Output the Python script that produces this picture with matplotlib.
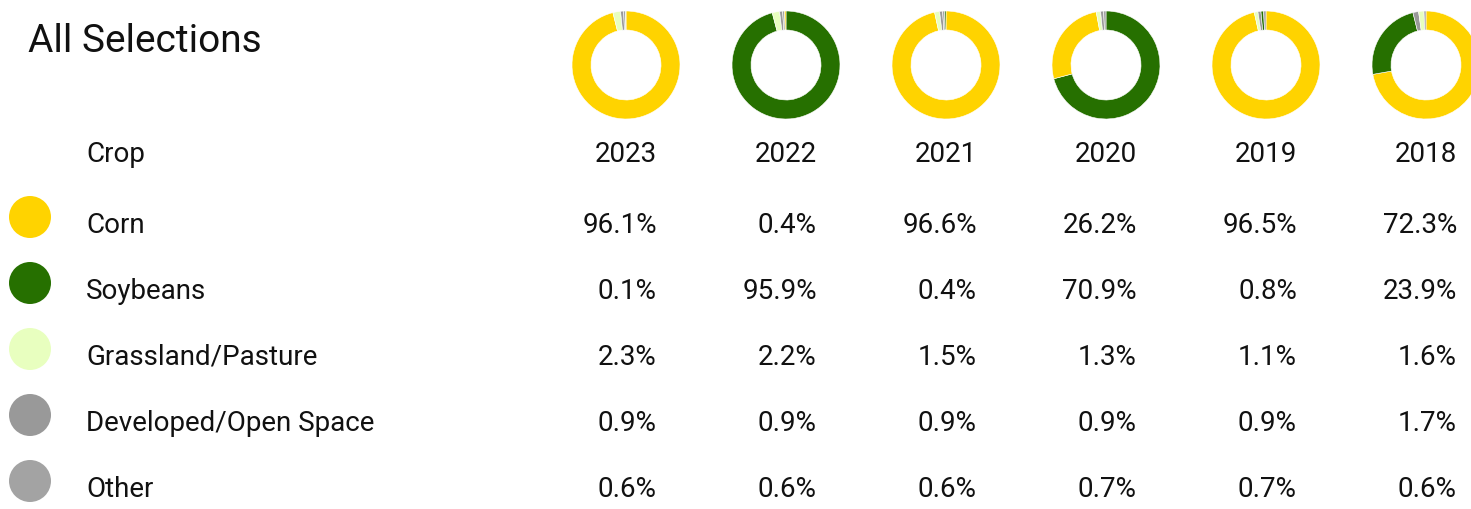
import matplotlib
matplotlib.use("Agg")
import matplotlib.pyplot as plt
from matplotlib.patches import Circle

plt.rcParams['font.family'] = ['Roboto', 'DejaVu Sans']

title = "All Selections"
header = "Crop"
years = ["2023", "2022", "2021", "2020", "2019", "2018"]
crops = ["Corn", "Soybeans", "Grassland/Pasture", "Developed/Open Space", "Other"]
colors = ["#FFD300", "#267000", "#E8FFBF", "#999999", "#A3A3A3"]

corn = [96.1, 0.4, 96.6, 26.2, 96.5, 72.3]
soybeans = [0.1, 95.9, 0.4, 70.9, 0.8, 23.9]
grassland = [2.3, 2.2, 1.5, 1.3, 1.1, 1.6]
developed = [0.9, 0.9, 0.9, 0.9, 0.9, 1.7]
other = [0.6, 0.6, 0.6, 0.7, 0.7, 0.6]

series = [corn, soybeans, grassland, developed, other]

W, H = 1471, 510
fig = plt.figure(figsize=(W / 100, H / 100), dpi=100)
ax = fig.add_axes([0, 0, 1, 1])

def Y(y):
    return H - y

col_x0 = 626      # donut centre of first column
col_dx = 160
text_right_off = 31
donut_cy = 66
donut_r = 54
ring_w = 19

row_base0 = 233
row_dy = 66
header_base = 162

txt_color = "#111111"
fs = 20

ax.text(28, Y(52), title, fontsize=28, color=txt_color, ha='left', va='baseline')
ax.text(86, Y(header_base), header, fontsize=fs, color=txt_color, ha='left', va='baseline')

for j, yr in enumerate(years):
    cx = col_x0 + j * col_dx
    vals = [s[j] for s in series]
    order = sorted(range(len(vals)), key=lambda k: -vals[k])
    ax.pie([vals[k] for k in order], colors=[colors[k] for k in order],
           center=(cx, Y(donut_cy)), radius=donut_r, startangle=90,
           counterclock=False,
           wedgeprops=dict(width=ring_w, edgecolor='white', linewidth=0.4))
    ax.text(cx + text_right_off, Y(header_base), yr, fontsize=fs, color=txt_color,
            ha='right', va='baseline')
    for i, s in enumerate(series):
        ax.text(cx + text_right_off, Y(row_base0 + i * row_dy), f"{s[j]:.1f}%",
                fontsize=fs, color=txt_color, ha='right', va='baseline')

for i, name in enumerate(crops):
    yb = row_base0 + i * row_dy
    ax.add_patch(Circle((30, Y(yb - 15)), 21, facecolor=colors[i], edgecolor='none'))
    ax.text(86, Y(yb), name, fontsize=fs, color=txt_color, ha='left', va='baseline')

ax.set_aspect('auto')
ax.set_xlim(0, W)
ax.set_ylim(0, H)
ax.axis('off')

fig.savefig("out.png", dpi=100)
